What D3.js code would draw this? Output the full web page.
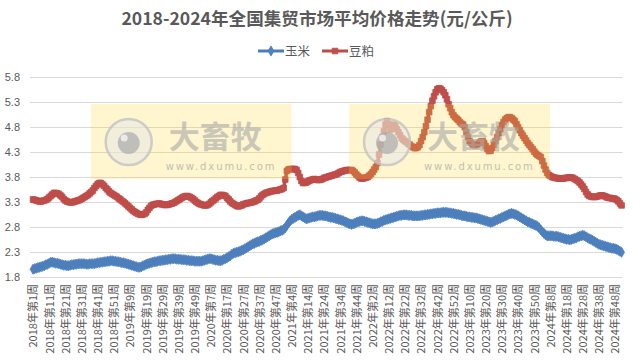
<!DOCTYPE html>
<html><head><meta charset="utf-8">
<script src="https://cdn.jsdelivr.net/npm/d3@7"></script>
<style>body{margin:0;background:#fff}</style>
</head><body><svg id="c" width="633" height="361"></svg>
<script>
const years = [2018, 2019, 2020, 2021, 2022, 2023, 2024];
const weeksPerYear = [52, 52, 53, 52, 52, 52, 52];
const seriesNames = ["玉米", "豆粕"];
const yTicks = [1.8, 2.3, 2.8, 3.3, 3.8, 4.3, 4.8, 5.3, 5.8];

const corn = [
 1.95,1.96,1.97,1.98,1.99,2.00,2.01,2.02,2.04,2.05,2.07,2.09,2.09,2.08,2.07,2.07,2.06,2.05,2.04,2.03,2.03,2.02,2.02,2.03,2.04,2.04,2.05,2.05,2.06,2.06,2.06,2.06,2.06,2.05,2.05,2.06,2.06,2.06,2.06,2.07,2.08,2.08,2.09,2.09,2.10,2.10,2.11,2.11,2.12,2.12,2.11,2.11,
 2.10,2.10,2.09,2.08,2.08,2.07,2.06,2.05,2.04,2.03,2.02,2.01,2.00,1.99,1.99,2.00,2.02,2.03,2.05,2.06,2.07,2.08,2.09,2.10,2.10,2.11,2.12,2.12,2.13,2.13,2.14,2.14,2.15,2.15,2.16,2.16,2.16,2.15,2.15,2.15,2.14,2.14,2.14,2.13,2.13,2.12,2.12,2.12,2.11,2.11,2.11,2.11,
 2.11,2.12,2.13,2.14,2.15,2.16,2.16,2.15,2.14,2.13,2.13,2.12,2.12,2.13,2.15,2.16,2.18,2.20,2.22,2.25,2.27,2.28,2.29,2.30,2.31,2.33,2.34,2.36,2.38,2.40,2.42,2.44,2.46,2.47,2.49,2.50,2.51,2.53,2.54,2.56,2.58,2.60,2.62,2.64,2.66,2.67,2.68,2.69,2.70,2.72,2.73,2.75,2.78,
 2.83,2.88,2.92,2.95,2.97,2.99,3.01,3.03,3.04,3.02,3.00,2.98,2.96,2.97,2.98,2.99,3.00,3.00,3.01,3.02,3.03,3.03,3.03,3.02,3.02,3.01,3.00,2.99,2.99,2.98,2.97,2.96,2.95,2.94,2.93,2.92,2.90,2.89,2.87,2.86,2.85,2.86,2.87,2.89,2.90,2.91,2.92,2.92,2.91,2.90,2.89,2.88,
 2.87,2.86,2.86,2.86,2.87,2.88,2.90,2.91,2.93,2.94,2.95,2.96,2.97,2.98,2.99,3.00,3.01,3.02,3.03,3.03,3.04,3.04,3.04,3.03,3.03,3.03,3.02,3.02,3.02,3.02,3.02,3.03,3.03,3.04,3.04,3.05,3.05,3.06,3.06,3.07,3.07,3.08,3.08,3.08,3.09,3.09,3.09,3.09,3.08,3.08,3.07,3.07,
 3.06,3.05,3.05,3.04,3.03,3.02,3.02,3.01,3.00,3.00,2.99,2.99,2.98,2.98,2.97,2.96,2.95,2.94,2.93,2.92,2.91,2.90,2.89,2.90,2.91,2.93,2.94,2.96,2.97,2.99,3.00,3.02,3.03,3.05,3.06,3.07,3.06,3.05,3.04,3.02,3.00,2.98,2.96,2.94,2.92,2.90,2.89,2.87,2.86,2.84,2.83,2.81,
 2.78,2.74,2.70,2.67,2.64,2.62,2.62,2.62,2.62,2.61,2.61,2.61,2.60,2.59,2.58,2.57,2.56,2.55,2.55,2.54,2.55,2.56,2.57,2.58,2.60,2.61,2.62,2.63,2.62,2.60,2.58,2.56,2.55,2.53,2.51,2.49,2.47,2.45,2.44,2.43,2.42,2.41,2.40,2.39,2.38,2.37,2.37,2.36,2.35,2.33,2.31,2.29
];

const soymeal = [
 3.35,3.34,3.33,3.32,3.31,3.31,3.32,3.33,3.34,3.36,3.39,3.42,3.45,3.48,3.48,3.47,3.46,3.43,3.40,3.36,3.33,3.31,3.30,3.29,3.29,3.30,3.31,3.32,3.33,3.34,3.36,3.38,3.40,3.42,3.44,3.47,3.50,3.53,3.58,3.62,3.66,3.68,3.68,3.65,3.62,3.58,3.55,3.51,3.48,3.46,3.44,3.42,
 3.40,3.37,3.35,3.32,3.30,3.27,3.24,3.21,3.18,3.15,3.12,3.10,3.08,3.06,3.05,3.04,3.05,3.06,3.09,3.14,3.18,3.22,3.24,3.25,3.26,3.26,3.27,3.26,3.25,3.24,3.24,3.24,3.25,3.26,3.27,3.28,3.30,3.32,3.34,3.36,3.38,3.40,3.41,3.42,3.41,3.40,3.38,3.36,3.33,3.30,3.28,3.26,
 3.25,3.24,3.23,3.23,3.24,3.26,3.29,3.32,3.34,3.37,3.40,3.42,3.44,3.44,3.43,3.42,3.38,3.35,3.31,3.28,3.26,3.24,3.22,3.21,3.22,3.23,3.25,3.26,3.27,3.28,3.28,3.29,3.30,3.31,3.33,3.34,3.37,3.41,3.44,3.46,3.48,3.49,3.50,3.51,3.52,3.52,3.53,3.53,3.54,3.55,3.56,3.58,3.75,
 3.92,3.95,3.96,3.96,3.96,3.96,3.94,3.88,3.80,3.72,3.68,3.68,3.69,3.71,3.73,3.74,3.75,3.76,3.75,3.74,3.74,3.75,3.76,3.78,3.79,3.80,3.81,3.82,3.83,3.84,3.85,3.86,3.88,3.90,3.91,3.92,3.93,3.94,3.94,3.94,3.94,3.92,3.89,3.85,3.82,3.79,3.77,3.77,3.78,3.79,3.80,3.83,
 3.86,3.90,3.95,4.00,4.08,4.25,4.45,4.60,4.72,4.85,4.92,4.85,4.75,4.78,4.85,4.82,4.76,4.70,4.64,4.58,4.55,4.52,4.50,4.47,4.45,4.42,4.40,4.38,4.38,4.40,4.44,4.52,4.60,4.70,4.82,4.95,5.10,5.22,5.33,5.42,5.50,5.56,5.58,5.57,5.54,5.50,5.44,5.36,5.26,5.18,5.10,5.04,
 5.00,4.97,4.94,4.90,4.87,4.85,4.80,4.70,4.60,4.52,4.48,4.45,4.44,4.44,4.46,4.49,4.51,4.52,4.48,4.42,4.36,4.32,4.33,4.38,4.45,4.52,4.60,4.68,4.76,4.84,4.90,4.95,4.98,5.00,5.00,4.98,4.95,4.92,4.86,4.80,4.74,4.68,4.63,4.58,4.53,4.48,4.44,4.40,4.36,4.31,4.27,4.24,
 4.22,4.20,4.12,4.03,3.95,3.88,3.84,3.82,3.80,3.79,3.78,3.78,3.77,3.77,3.77,3.77,3.78,3.78,3.79,3.79,3.79,3.78,3.76,3.74,3.72,3.69,3.65,3.61,3.56,3.50,3.45,3.42,3.41,3.40,3.40,3.40,3.41,3.42,3.43,3.43,3.42,3.41,3.39,3.38,3.38,3.37,3.37,3.36,3.34,3.31,3.27,3.23
];

const categories = years.flatMap((y, k) => d3.range(1, weeksPerYear[k] + 1).map(w => `${y}年第${w}周`));
const tickLabels = categories.filter((c, i) => i % 10 === 0);

const svg = d3.select("#c");
const cjk = "'Noto Sans CJK SC','Microsoft YaHei',sans-serif";
const txt = "#595959";

const x = d3.scalePoint().domain(categories).range([32.2, 622.4]).padding(0.5);
const y = d3.scaleLinear().domain([1.8, 5.8]).range([276.7, 77.3]);

// title
svg.append("text").attr("x", 317).attr("y", 24.5).attr("text-anchor", "middle")
  .attr("font-family", cjk).attr("font-weight", "bold").attr("font-size", 17.6)
  .attr("fill", txt).text("2018-2024年全国集贸市场平均价格走势(元/公斤)");

// gridlines
svg.append("g").selectAll("line").data(yTicks).join("line")
  .attr("x1", 30).attr("x2", 622.5)
  .attr("y1", d => Math.round(y(d)) + 0.5).attr("y2", d => Math.round(y(d)) + 0.5)
  .attr("stroke", "#d9d9d9").attr("stroke-width", 1);

// y axis
const ya = svg.append("g").attr("transform", "translate(20,0)")
  .call(d3.axisLeft(y).tickValues(yTicks).tickFormat(d3.format(".1f")).tickSize(0).tickPadding(0));
ya.select(".domain").remove();
ya.selectAll("text").attr("font-family", "'Liberation Sans',Arial,sans-serif").attr("font-size", 11).attr("fill", txt);

// x axis labels
const xa = svg.append("g").attr("transform", "translate(0,284)")
  .call(d3.axisBottom(x).tickValues(tickLabels).tickSize(0).tickPadding(0));
xa.select(".domain").remove();
xa.selectAll("text")
  .attr("font-family", cjk).attr("font-size", 11).attr("fill", txt)
  .attr("text-anchor", "end").attr("transform", "rotate(-90)")
  .attr("x", 0).attr("y", 0).attr("dy", "0.35em");

const series = [
  { name: seriesNames[0], values: corn, line: "#4A7EBB", fill: "#4F81BD", sym: d3.symbolDiamond, size: 30 },
  { name: seriesNames[1], values: soymeal, line: "#BE4B48", fill: "#C0504D", sym: d3.symbolSquare, size: 32 }
];

const line = d3.line().x((d, i) => x(categories[i])).y(d => y(d));
series.forEach(s => {
  svg.append("path").datum(s.values).attr("d", line)
    .attr("fill", "none").attr("stroke", s.line).attr("stroke-width", 3.5).attr("stroke-linejoin", "round");
  svg.append("g").selectAll("path").data(s.values).join("path")
    .attr("transform", (d, i) => `translate(${x(categories[i])},${y(d)})`)
    .attr("d", d3.symbol().type(s.sym).size(s.size))
    .attr("fill", s.fill).attr("stroke", s.line).attr("stroke-width", 0.75);
});

// watermark overlays
function watermark(x0) {
  const g = svg.append("g");
  g.append("rect").attr("x", x0).attr("y", 104).attr("width", 201).attr("height", 75)
    .attr("fill", "rgb(255,212,35)").attr("opacity", 0.22);
  g.append("circle").attr("cx", x0 + 38).attr("cy", 142).attr("r", 23)
    .attr("fill", "#e8e8e8").attr("fill-opacity", 0.55).attr("stroke", "#c2c2c2").attr("stroke-width", 2.5).attr("stroke-opacity", 0.8);
  g.append("circle").attr("cx", x0 + 38).attr("cy", 143).attr("r", 11).attr("fill", "#a9a9a9").attr("opacity", 0.7);
  g.append("circle").attr("cx", x0 + 33.5).attr("cy", 138).attr("r", 3.5).attr("fill", "#f2f2f2").attr("opacity", 0.85);
  g.append("text").attr("x", x0 + 78).attr("y", 148).attr("font-family", cjk).attr("font-weight", "bold")
    .attr("font-size", 31).attr("fill", "#a8a8a8").attr("opacity", 0.6).text("大畜牧");
  g.append("text").attr("x", x0 + 75).attr("y", 170).attr("font-family", "'DejaVu Sans',sans-serif")
    .attr("font-size", 10).attr("letter-spacing", 1.9).attr("fill", "#a8a8a8").attr("opacity", 0.7).text("www.dxumu.com");
}
watermark(90.7);
watermark(349);

// legend
const leg = svg.append("g");
const legItems = [{ s: series[0], x: 258 }, { s: series[1], x: 322 }];
legItems.forEach(({ s, x: lx }) => {
  leg.append("line").attr("x1", lx).attr("x2", lx + 26).attr("y1", 51).attr("y2", 51)
    .attr("stroke", s.line).attr("stroke-width", 3);
  leg.append("path").attr("transform", `translate(${lx + 13},51)`)
    .attr("d", d3.symbol().type(s.sym).size(s.size)).attr("fill", s.fill).attr("stroke", s.line).attr("stroke-width", 0.75);
  leg.append("text").attr("x", lx + 27).attr("y", 51).attr("dy", "0.36em")
    .attr("font-family", cjk).attr("font-size", 12.5).attr("fill", txt).text(s.name);
});
</script></body></html>
